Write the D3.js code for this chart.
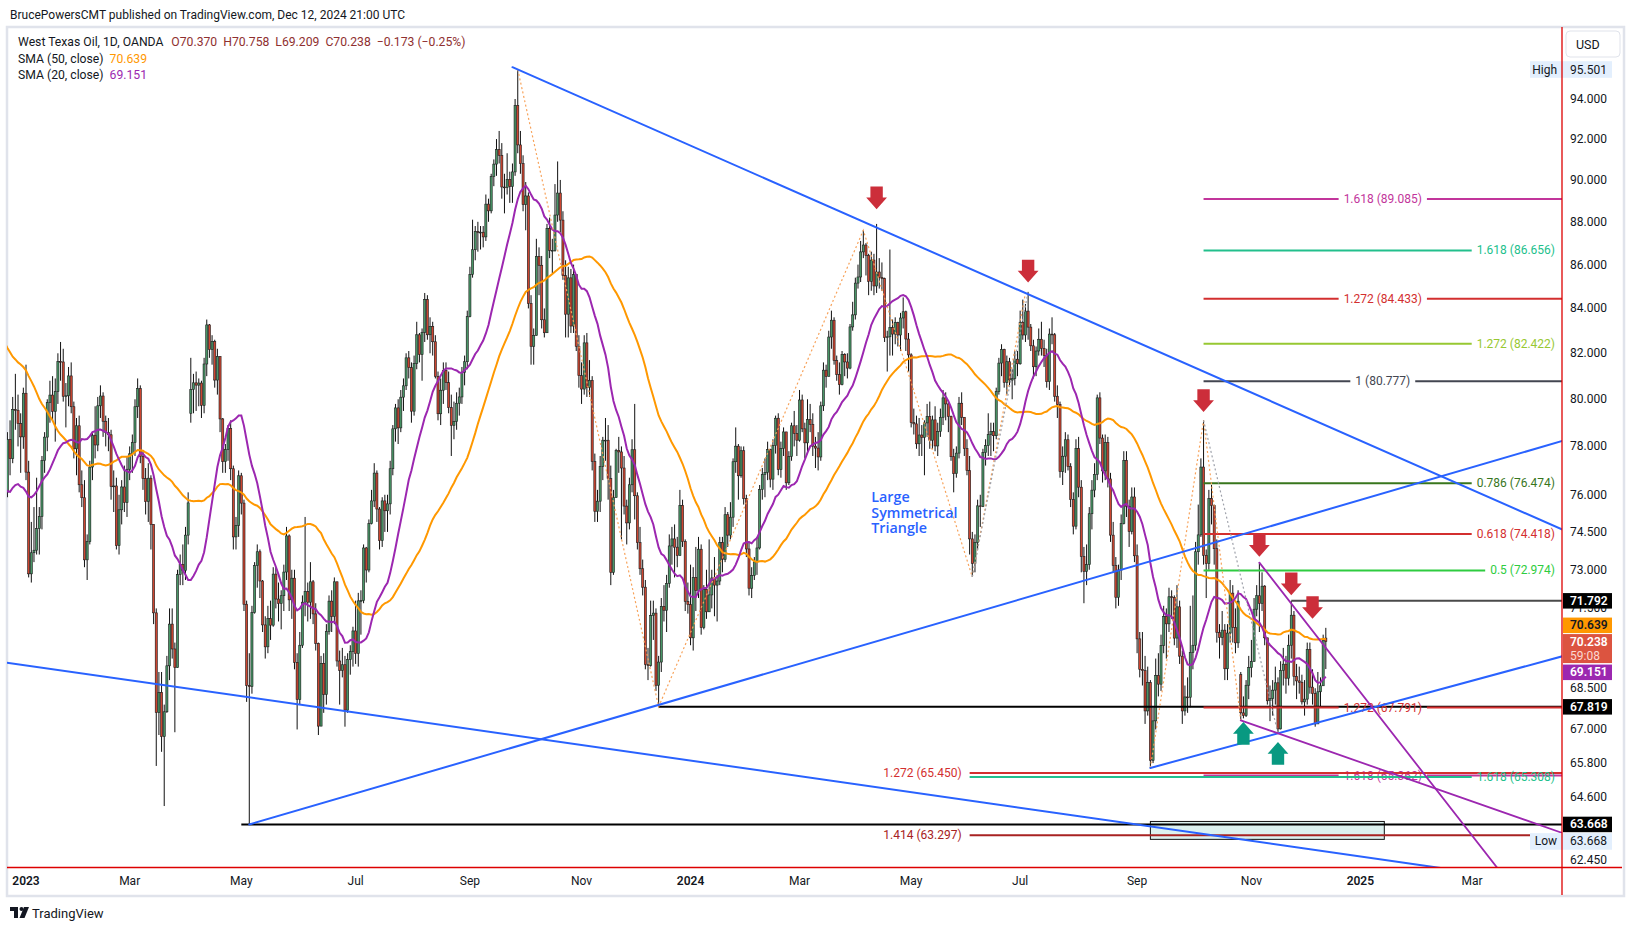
<!DOCTYPE html>
<html><head><meta charset="utf-8">
<script src="https://cdn.jsdelivr.net/npm/d3@7"></script>
<style>
html,body{margin:0;padding:0;background:#fff;}
svg{display:block;font-family:Roboto,"Noto Sans",Arial,sans-serif;}
</style></head><body>
<svg id="c" width="1634" height="931"></svg>
<script>
// ================= DATA (daily bars: [close, high, low, open?]; open defaults to previous close) =================
const m2022_10 = [[83.63,84.0,79.3],[86.52,86.8,83.4],[87.76,88.4,86.0],[88.45,88.9,86.6],[92.64,92.9,88.3],[91.13,93.6,90.0],[89.35,91.5,88.3],[87.27,89.6,86.6],[89.11,89.6,85.4],[85.61,89.8,85.4],[85.46,86.8,84.5],[82.82,85.9,81.3],[85.98,86.5,82.6],[84.51,86.3,83.7],[85.05,85.9,82.1],[84.58,85.6,83.4],[85.32,85.6,83.0],[87.91,88.4,85.2],[89.08,89.8,87.4],[87.90,89.2,87.3],[86.53,88.3,85.9]];
const m2022_11 = [[88.37,88.6,86.2],[90.00,90.3,87.8],[88.17,90.1,87.8],[92.61,92.8,87.9],[91.79,93.7,91.3],[88.91,92.2,88.4],[85.83,89.5,85.6],[86.47,87.3,84.9],[88.96,90.0,86.2],[85.87,89.0,85.6],[86.92,87.2,84.0],[85.59,87.4,85.2],[81.64,85.8,81.4],[80.08,82.3,77.2],[79.73,81.0,75.1],[80.95,81.5,79.0],[77.94,81.4,77.4],[76.28,78.0,76.0],[77.24,77.4,73.6],[78.20,79.8,77.6],[80.55,81.0,77.9]];
const m2022_12 = [[81.22,81.9,80.1],[79.98,83.2,79.3],[76.93,82.1,76.4],[74.25,77.8,74.0],[72.01,75.1,71.8],[71.46,73.2,70.1],[71.02,72.6,70.3],[73.17,73.8,70.3],[75.39,75.7,72.8],[77.28,77.5,75.0],[76.11,77.4,75.3],[74.29,76.3,73.8],[75.19,75.8,73.2],[76.09,76.7,74.9],[78.29,78.6,75.9],[77.49,79.1,76.8],[79.56,80.1,77.3],[79.53,81.1,78.7],[78.96,80.2,78.0],[78.40,79.4,76.9],[80.26,80.5,77.9]];
const m2023_01 = [[76.93,81.5,76.6],[72.84,77.4,72.7],[73.67,74.9,72.5],[73.77,75.5,73.3],[74.63,76.7,73.6],[75.12,75.5,73.6],[77.41,77.6,74.6],[78.39,78.6,76.9],[79.86,80.0,77.8],[80.18,80.8,79.0],[79.48,81.0,79.1],[80.33,80.9,78.2],[81.64,82.0,79.8],[81.62,82.5,80.8],[80.13,82.2,79.9],[80.15,80.7,78.8],[81.01,81.4,79.7],[79.68,81.6,79.4],[77.90,79.9,77.5],[78.87,79.2,76.8]];
const m2023_02 = [[76.41,79.3,76.1],[75.88,77.0,75.5],[73.39,76.6,73.1],[74.11,74.4,72.6],[77.14,77.4,74.0],[78.47,78.6,76.6],[78.06,79.7,77.5],[79.72,80.1,77.8],[80.14,80.6,79.2],[79.06,80.3,78.4],[78.59,79.3,78.0],[78.49,79.2,77.8],[76.34,78.7,75.8],[76.36,77.0,75.3],[73.95,76.7,73.8],[75.39,76.0,73.6],[76.32,76.6,74.8],[75.68,77.2,75.3],[77.05,77.6,75.1]];
const m2023_03 = [[77.69,78.0,76.6],[78.16,78.5,76.9],[79.68,80.0,77.6],[80.46,80.9,79.2],[77.58,80.6,77.3],[76.66,77.8,76.2],[75.72,77.1,75.2],[76.68,77.3,74.9],[74.80,76.8,73.8],[71.33,74.7,70.9],[67.61,71.5,65.7],[68.35,69.1,66.8],[66.74,69.1,66.2],[67.64,67.9,64.3],[69.33,69.7,67.6],[70.90,71.5,68.8],[69.96,71.5,69.6],[69.26,70.2,66.9],[72.81,73.0,69.3],[73.20,73.6,72.4],[72.97,74.0,72.4],[74.37,74.7,72.6],[75.67,76.1,74.0]];
const m2023_04 = [[80.42,81.8,79.0,79.4],[80.71,81.1,79.4],[80.61,81.2,79.5],[80.70,80.9,79.7],[79.74,80.8,79.2],[81.53,81.8,79.4],[83.26,83.5,81.0],[82.16,83.3,81.8],[82.52,82.8,81.5],[80.83,82.6,80.5],[81.86,82.2,80.2],[79.16,81.4,78.6],[77.37,79.2,76.9],[77.87,78.1,76.9],[78.76,78.9,77.4],[77.07,79.1,76.6],[74.30,77.2,73.8],[74.76,75.1,73.8],[76.78,77.0,74.3]];
const m2023_05 = [[75.66,76.9,75.2],[71.66,75.8,71.4],[68.60,71.8,68.0],[68.56,69.8,63.668],[71.34,71.6,68.3],[73.16,73.3,71.3],[73.71,74.0,72.3],[72.56,73.8,71.9],[70.87,72.6,70.6],[70.04,71.2,69.6],[71.11,71.6,69.8],[70.86,71.8,70.3],[72.83,73.1,70.8],[71.86,73.1,71.5],[71.69,72.5,71.0],[71.99,72.2,70.7],[72.91,73.2,71.4],[74.34,74.7,72.6],[71.83,74.4,71.4],[72.67,73.0,71.1],[69.46,73.0,69.2],[68.09,69.8,67.0]];
const m2023_06 = [[70.10,70.6,67.9],[71.74,72.0,70.0],[72.15,75.1,71.2],[71.74,72.5,71.0],[72.53,73.3,71.1],[71.29,72.6,70.9],[70.17,71.7,69.9],[67.12,70.2,66.8],[69.42,69.7,67.4],[68.27,69.8,67.6],[70.62,70.9,67.9],[71.78,72.0,70.5],[71.19,72.2,70.6],[72.53,72.7,70.9],[69.51,72.4,69.3],[69.16,69.9,67.9],[69.37,70.0,68.9],[67.70,69.7,67.1],[69.56,69.8,67.6],[69.86,70.1,69.0],[70.64,70.8,69.3]];
const m2023_07 = [[69.79,71.8,69.4],[71.79,72.1,69.3],[71.80,72.2,70.5],[73.86,74.0,71.7],[72.99,73.9,72.5],[74.83,75.0,72.9],[75.75,76.2,74.8],[76.89,77.3,75.5],[75.42,77.0,74.9],[74.15,75.5,73.8],[75.75,75.9,73.9],[75.35,76.0,74.5],[75.63,76.0,74.5],[77.07,77.4,75.2],[78.74,78.9,76.8],[79.63,79.8,78.2],[78.78,80.0,78.1],[80.09,80.4,78.6],[80.58,80.9,79.5],[81.80,82.0,80.4]];
const m2023_08 = [[81.37,82.1,80.9],[79.49,81.6,79.0],[81.55,81.9,79.3],[82.82,83.4,81.3],[81.94,82.9,81.6],[82.92,83.1,80.8],[84.40,84.7,82.5],[82.82,84.6,82.6],[83.19,83.6,82.0],[82.51,83.4,81.9],[80.99,82.8,80.9],[79.38,81.2,79.1],[80.39,80.9,78.9],[81.25,81.6,79.8],[80.72,81.6,80.4],[79.64,81.2,79.4],[78.89,80.2,77.6],[79.05,79.9,78.3],[79.83,80.3,78.7],[80.10,80.5,79.3],[81.16,81.4,79.8],[81.63,81.9,80.6],[83.63,83.9,81.3]];
const m2023_09 = [[85.55,85.9,83.6],[86.69,88.1,85.4],[87.54,87.8,86.2],[87.51,88.0,86.6],[87.51,87.8,86.7],[87.29,87.8,86.8],[88.84,89.3,87.1],[88.52,89.1,88.0],[90.16,90.3,88.4],[90.77,91.0,89.7],[91.48,92.0,90.2],[91.20,92.4,90.8],[89.66,91.8,89.1],[89.63,90.3,88.4],[90.03,91.3,89.3],[89.68,90.4,88.9],[90.39,90.8,88.9],[93.68,94.0,90.2],[91.71,95.501,91.3],[90.79,92.4,90.3]];
const m2023_10 = [[88.82,91.2,88.5],[89.23,89.9,87.6],[84.22,89.4,84.0],[82.31,84.6,81.5],[82.79,83.1,81.5],[86.38,87.2,84.7],[85.97,86.8,84.6],[83.49,86.4,83.1],[82.91,84.0,82.7],[87.69,87.9,83.5],[86.66,88.2,86.3],[86.66,87.2,85.6],[88.32,89.8,86.6],[89.37,90.9,88.0],[88.08,90.0,87.5],[85.49,88.5,85.3],[83.74,86.2,82.7],[85.39,85.9,82.7],[83.21,85.8,82.9],[85.54,86.0,82.9],[82.31,85.2,82.1],[81.02,82.8,80.5]];
const m2023_11 = [[80.44,81.6,79.8],[82.46,82.8,80.2],[80.51,82.9,80.1],[80.82,81.7,80.1],[77.37,81.0,77.0],[75.33,77.7,74.9],[75.74,76.2,74.9],[77.17,77.6,75.3],[78.26,78.4,76.6],[78.26,79.2,77.4],[76.66,78.9,75.8],[72.90,77.2,72.4],[75.89,76.2,72.8],[77.83,77.9,75.9],[77.77,78.4,76.9],[77.10,78.0,74.2],[75.54,77.6,75.2],[74.86,75.8,74.0],[76.41,76.7,74.6],[77.86,78.3,76.1],[75.96,79.8,75.0]];
const m2023_12 = [[74.07,76.1,73.8],[73.04,74.7,72.8],[72.32,73.4,72.0],[69.38,72.6,69.2],[69.34,70.0,68.8],[71.23,71.8,69.3],[71.32,71.8,70.3],[68.61,71.5,68.4],[69.47,69.7,67.819],[71.58,71.9,69.1],[71.43,72.4,71.0],[72.47,72.8,70.6],[73.94,74.4,72.3],[74.22,74.7,73.2],[73.89,74.8,72.7],[73.56,74.3,73.1],[75.57,76.2,73.6],[74.11,75.8,73.9],[71.77,74.2,71.4],[71.65,72.5,71.3]];
const m2024_01 = [[70.38,73.2,70.1],[72.70,73.1,69.9],[72.19,73.9,71.4],[73.81,74.3,71.9],[70.77,74.0,70.5],[72.24,72.4,70.7],[71.37,73.0,71.1],[72.02,74.2,71.4],[72.68,73.0,71.5],[72.40,73.5,71.2],[72.56,72.8,71.0],[74.08,74.3,72.4],[73.41,74.3,72.9],[75.19,75.5,73.3],[74.37,75.3,73.9],[75.09,75.7,74.2],[77.36,77.5,74.7],[78.01,78.8,76.9],[76.78,78.1,75.8],[77.82,78.0,76.7],[75.85,78.0,75.6]];
const m2024_02 = [[73.82,76.0,73.5],[72.28,74.1,72.0],[72.78,73.1,71.9],[73.31,73.5,72.6],[73.86,74.3,72.8],[76.22,76.4,73.8],[76.84,77.1,75.8],[76.92,77.5,75.9],[77.87,78.2,76.6],[76.64,77.9,76.3],[78.03,78.3,76.2],[79.19,79.3,77.7],[77.04,79.4,76.8],[77.91,78.2,76.7],[78.61,78.8,77.6],[76.49,78.6,76.2],[77.58,77.8,76.4],[78.87,79.0,77.4],[78.54,79.5,78.0],[78.26,78.9,77.6]];
const m2024_03 = [[79.97,80.4,78.2],[78.74,80.2,78.6],[78.15,79.0,77.5],[79.13,80.0,77.8],[78.93,79.8,78.6],[78.01,79.4,77.6],[77.93,78.4,77.1],[77.56,78.6,77.0],[79.72,79.9,77.4],[81.26,81.6,79.5],[80.99,81.5,80.5],[82.72,83.0,81.0],[83.47,83.9,82.2],[81.68,83.6,81.5],[81.07,81.9,80.8],[80.63,81.6,80.2],[81.95,82.1,80.6],[81.62,82.0,81.0],[81.35,82.0,80.9],[83.17,83.3,81.3]];
const m2024_04 = [[83.71,84.3,83.0],[85.15,85.4,83.5],[85.43,86.0,84.9],[86.59,87.1,85.2],[86.91,87.6,86.3],[86.43,87.0,85.5],[85.23,86.5,84.6],[86.21,86.6,84.8],[85.02,86.5,84.6],[85.66,87.9,84.7],[85.41,86.3,84.9],[85.36,86.1,84.8],[82.69,85.4,82.5],[82.73,83.0,81.2],[83.14,86.7,81.9],[82.85,83.5,81.9],[83.36,83.6,82.4],[82.81,83.4,82.3],[83.57,83.8,82.1],[83.85,84.5,83.1],[82.63,83.9,82.1],[81.93,82.9,81.2]];
const m2024_05 = [[79.00,82.0,78.8],[78.95,79.6,78.5],[78.11,79.3,77.9],[78.48,79.2,77.6],[78.38,78.9,77.6],[78.99,79.1,76.8],[79.26,79.8,78.4],[78.26,79.9,77.9],[79.12,79.3,77.9],[78.02,79.7,77.8],[78.63,79.0,77.6],[79.23,79.6,78.4],[80.06,80.4,78.9],[79.80,80.3,79.1],[79.26,79.9,78.6],[77.57,79.3,77.4],[76.87,77.9,76.1],[77.72,78.0,76.7],[79.83,80.1,77.5],[79.23,80.3,78.9],[77.91,79.1,77.6],[76.99,78.3,76.8]];
const m2024_06 = [[74.22,77.6,73.6],[73.25,74.5,72.72],[74.07,74.4,72.9],[75.55,75.8,73.8],[75.53,76.0,74.7],[77.74,77.9,75.5],[78.03,78.3,77.2],[78.50,79.4,77.6],[78.62,79.0,77.6],[78.45,79.0,77.8],[80.33,80.5,78.3],[81.57,81.8,80.2],[82.17,82.4,81.0],[80.73,82.2,80.5],[81.63,81.9,80.2],[80.83,81.8,80.6],[80.90,81.3,80.0],[81.74,82.1,80.6],[81.54,82.1,81.0]];
const m2024_07 = [[83.38,83.9,81.5],[82.81,84.4,82.6],[83.88,84.2,82.5],[83.16,84.75,82.6],[82.33,83.3,82.1],[81.41,82.6,80.9],[82.10,82.3,81.0],[82.62,83.1,81.9],[82.21,83.4,81.9],[81.91,82.6,81.4],[80.76,82.2,80.5],[82.85,83.1,80.4],[82.82,83.6,82.4],[80.13,82.9,79.9],[79.78,80.6,79.2],[76.96,79.9,76.7],[77.59,78.0,76.4],[78.28,78.6,76.9],[77.16,78.5,77.0],[75.81,77.3,75.5],[74.73,76.1,74.4],[77.91,78.3,74.6]];
const m2024_08 = [[76.31,78.4,75.9],[73.52,76.6,72.9],[72.94,73.9,71.7],[73.20,74.0,72.4],[75.23,75.5,73.0],[76.19,76.6,74.6],[76.84,77.3,75.9],[80.06,80.2,76.6],[78.35,80.3,78.1],[76.98,78.5,76.5],[78.16,78.5,76.6],[76.65,78.4,76.3],[74.37,76.9,74.1],[73.17,74.9,72.9],[71.93,73.5,71.5],[72.99,73.2,71.6],[74.83,75.2,72.6],[77.42,77.8,74.8],[75.53,77.8,75.1],[74.52,75.8,73.9],[75.91,76.3,74.4],[73.55,76.3,73.3]];
const m2024_09 = [[70.34,74.0,69.8],[69.20,70.6,68.9],[69.15,70.6,68.6],[67.67,69.7,67.2],[68.71,69.3,67.5],[65.90,68.8,65.63],[67.31,67.8,65.8],[68.97,69.6,67.0],[68.65,69.8,68.2],[70.09,70.5,68.4],[71.19,71.6,69.8],[70.91,71.5,69.6],[71.95,72.3,70.6],[71.92,72.2,71.1],[70.37,72.0,70.1],[71.56,72.4,70.0],[69.69,71.8,69.4],[67.67,69.9,67.2],[68.18,68.6,67.5],[68.17,68.9,67.6]];
const m2024_10 = [[69.83,71.6,67.8],[70.10,72.0,69.2],[73.71,74.1,69.9],[74.38,75.6,73.2],[77.14,77.5,74.3],[73.57,79.1,73.2],[73.24,73.8,71.9],[75.85,76.2,73.0],[75.56,76.4,74.8],[73.83,75.6,73.2],[70.58,74.2,70.2],[70.39,70.9,69.6],[70.67,71.4,70.1],[69.22,70.9,68.8],[70.56,70.9,68.8],[72.09,72.6,70.2],[70.77,72.4,70.2],[70.19,71.5,69.8],[71.78,72.2,70.0],[67.60,69.1,67.33,69.0],[67.50,68.2,67.4],[68.61,68.8,67.45],[69.26,69.7,68.1]];
const m2024_11 = [[69.49,70.3,68.9],[71.47,71.9,69.9],[71.99,72.4,71.2],[71.69,73.3,70.6],[72.36,72.9,71.4],[70.38,72.4,70.1],[68.04,70.2,67.9],[68.12,68.6,67.3],[68.43,68.8,67.5],[68.70,69.3,67.9],[67.02,68.9,66.9],[69.16,69.5,67.0],[69.39,70.0,68.6],[68.87,69.7,68.3],[70.10,70.5,68.6],[71.24,71.79,69.6],[68.94,71.4,68.6],[68.77,69.4,68.1],[68.72,69.3,68.3],[68.00,69.0,67.9]];
const m2024_12 = [[68.10,68.8,67.5],[69.94,70.2,67.9],[68.54,70.2,68.3],[68.30,69.2,67.9],[67.20,68.5,67.1],[68.37,69.1,67.3],[68.59,68.9,67.8],[70.29,70.5,68.6],[70.238,70.758,69.209,70.370]];

const monthlyBars = [m2022_10,m2022_11,m2022_12,m2023_01,m2023_02,m2023_03,m2023_04,m2023_05,m2023_06,m2023_07,m2023_08,m2023_09,m2023_10,m2023_11,m2023_12,m2024_01,m2024_02,m2024_03,m2024_04,m2024_05,m2024_06,m2024_07,m2024_08,m2024_09,m2024_10,m2024_11,m2024_12];
const firstSession = "2022-10-03";
const holidays = ["2022-11-24","2022-12-26","2023-01-02","2023-01-16","2023-02-20","2023-04-07","2023-05-29","2023-06-19","2023-07-04","2023-09-04","2023-11-23","2023-12-25","2024-01-01","2024-01-15","2024-02-19","2024-03-29","2024-05-27","2024-06-19","2024-07-04","2024-09-02","2024-11-28","2024-12-25","2025-01-01"];

// price axis
const priceTicks = [94,92,90,88,86,84,82,80,78,76,74.5,73,71.5,68.5,67,65.8,64.6,62.45];
const monthNames = ["Jan","Feb","Mar","Apr","May","Jun","Jul","Aug","Sep","Oct","Nov","Dec"];

// legend values
const symbolTitle = "West Texas Oil, 1D, OANDA";
const ohlcLegend = ["O70.370","H70.758","L69.209","C70.238","\u22120.173 (\u22120.25%)"];
const smaLegend = [["SMA (50, close)","70.639"],["SMA (20, close)","69.151"]];
const highValue = 95.501, lowValue = 63.668;
const lastClose = 70.238, sma50Last = 70.639, sma20Last = 69.151;

// drawings: anchors are [date, price]
const triangleTop = [["2023-09-26",95.62],["2024-07-05",84.64]];
const triangleBottom = [["2023-05-04",63.668],["2023-12-13",67.89]];
const lowerTrend = [["2022-12-22",69.43],["2024-09-10",63.6]];
const channelLow = [["2024-09-10",65.63],["2024-11-15",66.86]];
const purpleSteep = [["2024-11-06",73.28],["2024-12-12",70.0]];
const purpleLow = [["2024-10-28",67.33],["2024-11-15",66.86]];
const zigzagOrange1 = [["2023-09-28",95.5],["2023-12-13",67.82],["2024-04-05",87.6],["2024-06-04",72.72],["2024-07-03",84.7]];
const zigzagOrange2 = [["2024-09-10",65.63],["2024-10-08",79.1],["2024-10-28",67.33]];
const zigzagGray1 = [["2024-06-04",72.72],["2024-07-05",84.75]];
const zigzagGray2 = [["2024-10-08",79.1],["2024-11-15",66.86]];
const fibLevels = [
  ["1.618 (89.085)",89.085,"2024-10-08"],
  ["1.618 (86.656)",86.656,"2024-10-08"],
  ["1.272 (84.433)",84.433,"2024-10-08"],
  ["1.272 (82.422)",82.422,"2024-10-08"],
  ["1 (80.777)",80.777,"2024-10-08"],
  ["0.786 (76.474)",76.474,"2024-10-08"],
  ["0.618 (74.418)",74.418,"2024-10-08"],
  ["0.5 (72.974)",72.974,"2024-10-08"],
  ["1.272 (67.791)",67.791,"2024-10-08"],
  ["1.618 (65.362)",65.362,"2024-10-08"],
  ["1.272 (65.450)",65.45,"2024-06-03"],
  ["1.618 (65.308)",65.308,"2024-06-03"],
  ["1.414 (63.297)",63.297,"2024-06-03"]
];
const horizontalLines = [[67.819,"2023-12-13"],[63.668,"2023-05-01"],[71.792,"2024-11-22"]];
const zoneBox = [["2024-09-10",63.77],["2025-01-15",63.16]];
const downArrows = [["2024-04-12",88.6],["2024-07-05",85.18],["2024-10-08",79.46],["2024-11-06",73.51],["2024-11-22",72.01],["2024-12-05",71.10]];
const upArrows = [["2024-10-29",67.27],["2024-11-15",66.55]];
const noteAnchor = ["2024-04-10",76.2];
const noteLines = ["Large","Symmetrical","Triangle"];

// ================= BUILD =================
const svg = d3.select("#c");
const PL = 7, PR = 1562, PT = 27, PB = 867.5;
const INK = "#131722";

function buildSessions(startIso, n){
  const hol = new Set(holidays), out = [];
  let t = Date.parse(startIso + "T00:00:00Z");
  while (out.length < n){
    const d = new Date(t), wd = d.getUTCDay(), iso = d.toISOString().slice(0,10);
    if (wd !== 0 && wd !== 6 && !hol.has(iso)) out.push(iso);
    t += 86400000;
  }
  return out;
}
const raw = monthlyBars.flat();
const sessions = buildSessions(firstSession, raw.length + 160);
const bars = raw.map((r,i)=>{
  const o = r.length > 3 ? r[3] : (i>0 ? raw[i-1][0] : r[0]);
  const c = r[0];
  return {i, date:sessions[i], o, c, h:Math.max(r[1],o,c), l:Math.min(r[2],o,c)};
});
const idx = new Map(sessions.map((d,i)=>[d,i]));
const i0 = idx.get("2023-01-03");
const x = d3.scaleLinear().domain([i0 - 7.15, i0 + 577.85]).range([PL, PR]);
const y = d3.scaleLog().domain([62.45, 94]).range([860.4, 99]);
const P = a => [x(idx.get(a[0])), y(a[1])];

// container
svg.append("rect").attr("x",0).attr("y",0).attr("width",1634).attr("height",931).attr("fill","#fff");
svg.append("rect").attr("x",PL).attr("y",PT).attr("width",1624-PL).attr("height",896-PT)
  .attr("fill","none").attr("stroke","#e0e3eb").attr("stroke-width",2.5);

svg.append("text").attr("x",10).attr("y",15).attr("dominant-baseline","central")
  .attr("font-size",12).attr("fill",INK).text("BrucePowersCMT published on TradingView.com, Dec 12, 2024 21:00 UTC");

const defs = svg.append("defs");
defs.append("clipPath").attr("id","pane").append("rect").attr("x",PL).attr("y",PT).attr("width",PR-PL).attr("height",PB-PT);
const pane = svg.append("g").attr("clip-path","url(#pane)");

// candles
const bw = 2.1;
const cg = pane.append("g");
cg.selectAll("line.w").data(bars).join("line").attr("class","w")
  .attr("x1",d=>x(d.i)).attr("x2",d=>x(d.i)).attr("y1",d=>y(d.h)).attr("y2",d=>y(d.l))
  .attr("stroke","#111").attr("stroke-width",1);
cg.selectAll("rect.b").data(bars).join("rect").attr("class","b")
  .attr("x",d=>x(d.i)-bw/2).attr("width",bw)
  .attr("y",d=>y(Math.max(d.o,d.c))).attr("height",d=>Math.max(0.8, y(Math.min(d.o,d.c))-y(Math.max(d.o,d.c))))
  .attr("fill",d=>d.c>=d.o ? "#489566" : "#cc4530").attr("stroke","#1c1c1c").attr("stroke-width",0.6);

// SMAs
function sma(n){ const out=[]; for(let i=n-1;i<bars.length;i++){ out.push({i, v:d3.mean(bars.slice(i-n+1,i+1),d=>d.c)}); } return out; }
const ln = d3.line().x(d=>x(d.i)).y(d=>y(d.v));
pane.append("path").attr("d",ln(sma(50))).attr("fill","none").attr("stroke","#ff9800").attr("stroke-width",2);
pane.append("path").attr("d",ln(sma(20))).attr("fill","none").attr("stroke","#9c27b0").attr("stroke-width",2);

// zone box
{
  const a = P(zoneBox[0]), b = P(zoneBox[1]);
  pane.append("rect").attr("x",a[0]).attr("y",a[1]).attr("width",b[0]-a[0]).attr("height",b[1]-a[1])
    .attr("fill","rgba(178,223,219,0.45)").attr("stroke","#111").attr("stroke-width",1);
}

// horizontal lines
const hColors = ["#000","#000","#4a4a4a"];
horizontalLines.forEach((h,k)=>{
  const x0 = x(idx.get(h[1]));
  pane.append("line").attr("x1",x0).attr("x2",PR).attr("y1",y(h[0])).attr("y2",y(h[0]))
    .attr("stroke",hColors[k]).attr("stroke-width",2);
});

// fib levels
const fibStyle = [
  ["#c2359b","mid"],["#22bf8c","right"],["#d32f2f","mid"],["#97c832","right"],["#434651","mid"],
  ["#38761d","right"],["#d32f2f","right"],["#2ecc40","right"],["#d32f2f","mid"],["#c2359b","mid"],
  ["#d32f2f","left"],["#22bf8c","right"],["#a82222","left"]
];
fibLevels.forEach((f,k)=>{
  const [col, side] = fibStyle[k];
  const yy = y(f[1]), x0 = x(idx.get(f[2]));
  const g = pane.append("g");
  const t = g.append("text").attr("y",yy).attr("dominant-baseline","central").attr("font-size",12)
    .attr("fill",col).text(f[0]);
  const w = t.node().getComputedTextLength();
  const seg = (a,b)=>g.insert("line","text").attr("x1",a).attr("x2",b).attr("y1",yy).attr("y2",yy).attr("stroke",col).attr("stroke-width",2);
  if (side === "mid"){
    const cx = (x0 + PR)/2;
    t.attr("x",cx).attr("text-anchor","middle");
    seg(x0, cx - w/2 - 5); seg(cx + w/2 + 5, PR);
  } else if (side === "right"){
    t.attr("x",1555).attr("text-anchor","end");
    seg(x0, 1555 - w - 5);
  } else {
    t.attr("x",x0 - 8).attr("text-anchor","end");
    seg(x0, PR);
  }
});

// dotted zigzags
function poly(pts, col){
  pane.append("path").attr("d", d3.line()(pts.map(P))).attr("fill","none")
    .attr("stroke",col).attr("stroke-width",1.2).attr("stroke-dasharray","2,2.5");
}
poly(zigzagOrange1,"#f7a25a");
poly(zigzagOrange2,"#f7a25a");
poly(zigzagGray1,"#9ea1aa");
poly(zigzagGray2,"#9ea1aa");

// trend lines (straight in screen space, extended right)
function trend(anc, col, w, extLeft){
  const a = P(anc[0]), b = P(anc[1]);
  const s = (b[1]-a[1])/(b[0]-a[0]);
  const start = extLeft ? [PL-5, a[1] + s*(PL-5-a[0])] : a;
  const end = [PR+5, a[1] + s*(PR+5-a[0])];
  pane.append("line").attr("x1",start[0]).attr("y1",start[1]).attr("x2",end[0]).attr("y2",end[1])
    .attr("stroke",col).attr("stroke-width",w).attr("stroke-linecap","round");
}
trend(triangleTop,"#2962ff",2,false);
trend(triangleBottom,"#2962ff",2,false);
trend(lowerTrend,"#2962ff",2,true);
trend(channelLow,"#2962ff",2,false);
trend(purpleSteep,"#9c27b0",1.8,false);
trend(purpleLow,"#9c27b0",1.8,false);

// arrows
function arrow(a, dir, col){
  const [ax, ay] = P(a);
  const pts = dir < 0
    ? [[-6.2,-22.7],[6.2,-22.7],[6.2,-11.7],[10.4,-11.7],[0,0],[-10.4,-11.7],[-6.2,-11.7]]
    : [[-6.2,22.7],[6.2,22.7],[6.2,11.7],[10.4,11.7],[0,0],[-10.4,11.7],[-6.2,11.7]];
  pane.append("polygon").attr("points",pts.map(p=>[ax+p[0],ay+p[1]].join(",")).join(" ")).attr("fill",col);
}
downArrows.forEach(a=>arrow(a,-1,"#cc2e3a"));
upArrows.forEach(a=>arrow(a,1,"#089981"));

// note text
{
  const [nx, ny] = P(noteAnchor);
  const t = pane.append("text").attr("x",nx).attr("y",ny+12).attr("font-family","'Open Sans',Roboto,sans-serif")
    .attr("font-size",14.3).attr("font-weight",600).attr("fill","#2962ff");
  noteLines.forEach((s,k)=>t.append("tspan").attr("x",nx).attr("dy",k?15.8:0).text(s));
}

// legend
{
  const t = svg.append("text").attr("x",18).attr("y",42.3).attr("dominant-baseline","central").attr("font-size",12.2).attr("fill",INK);
  t.append("tspan").text(symbolTitle);
  ohlcLegend.forEach((s,k)=>t.append("tspan").attr("dx",k===0?8:6).attr("fill","#8f3030").text(s));
  smaLegend.forEach((s,k)=>{
    const tt = svg.append("text").attr("x",18).attr("y",58.6+k*16.3).attr("dominant-baseline","central").attr("font-size",12.2).attr("fill",INK);
    tt.append("tspan").text(s[0]);
    tt.append("tspan").attr("dx",6).attr("fill",k===0?"#ff9800":"#9c27b0").text(s[1]);
  });
}

// price axis ticks
const ax = svg.append("g");
priceTicks.forEach(p=>{
  ax.append("text").attr("x",1570).attr("y",y(p)).attr("dominant-baseline","central").attr("font-size",12)
    .attr("fill",INK).text(p.toFixed(3));
});
// High / Low markers
[[highValue,"High"],[lowValue,"Low"]].forEach(([v,lab],k)=>{
  const yy = k===0 ? y(v) : y(v)+17;
  svg.append("rect").attr("x",1530).attr("y",yy-8.3).attr("width",82).attr("height",16.6).attr("fill","#e3effd");
  svg.append("text").attr("x",1557).attr("y",yy).attr("text-anchor","end").attr("dominant-baseline","central").attr("font-size",12).attr("fill",INK).text(lab);
  svg.append("text").attr("x",1570).attr("y",yy).attr("dominant-baseline","central").attr("font-size",12).attr("fill",INK).text(v.toFixed(3));
});

// price tags, stacked around the last-price tag so none overlap
const lastY = y(lastClose), lastTop = lastY - 7.5, lastBot = lastY + 21.5;
const tags = [
  ...horizontalLines.map(h=>({p:h[0], bg:"#000", fg:"#fff"})),
  {p:sma50Last, bg:"#ff9800", fg:INK},
  {p:sma20Last, bg:"#9c27b0", fg:"#fff"}
].map(t=>({...t, cy:y(t.p)}));
const H = 15.5;
const above = tags.filter(t=>t.p > lastClose).sort((a,b)=>b.cy-a.cy);
let limit = lastTop - 1;
above.forEach(t=>{ if (t.cy + H/2 > limit) t.cy = limit - H/2; limit = t.cy - H/2 - 1; });
const below = tags.filter(t=>t.p <= lastClose).sort((a,b)=>a.cy-b.cy);
limit = lastBot + 1.5;
below.forEach(t=>{ if (t.cy - H/2 < limit) t.cy = limit + H/2; limit = t.cy + H/2 + 1; });
tags.forEach(t=>{
  ax.append("rect").attr("x",1563).attr("y",t.cy-H/2).attr("width",49).attr("height",H).attr("fill",t.bg);
  ax.append("text").attr("x",1570).attr("y",t.cy).attr("dominant-baseline","central").attr("font-size",12)
    .attr("font-weight",600).attr("fill",t.fg).text(t.p.toFixed(3));
});
ax.append("rect").attr("x",1563).attr("y",lastTop).attr("width",49).attr("height",lastBot-lastTop).attr("fill","#dc5440");
ax.append("text").attr("x",1570).attr("y",lastY).attr("dominant-baseline","central").attr("font-size",12).attr("font-weight",600).attr("fill","#fff").text(lastClose.toFixed(3));
ax.append("text").attr("x",1570).attr("y",lastY+14).attr("dominant-baseline","central").attr("font-size",12).attr("fill","#fbd9d3").text("59:08");

// USD box
svg.append("rect").attr("x",1566).attr("y",31).attr("width",54).attr("height",26).attr("rx",4).attr("fill","#fff").attr("stroke","#e0e3eb");
svg.append("text").attr("x",1576).attr("y",44).attr("dominant-baseline","central").attr("font-size",12.5).attr("fill",INK).text("USD");

// time axis
sessions.forEach((d,i)=>{
  if (i===0) return;
  const m = +d.slice(5,7), pm = +sessions[i-1].slice(5,7);
  if (m === pm || d < "2023-01-01" || m % 2 === 0) return;
  const xx = x(i);
  if (xx < PL || xx > PR - 10) return;
  svg.append("text").attr("x",xx).attr("y",881).attr("text-anchor","middle").attr("dominant-baseline","central")
    .attr("font-size",12).attr("font-weight",m===1?600:400).attr("fill",INK)
    .text(m===1 ? d.slice(0,4) : monthNames[m-1]);
});

// red separators
svg.append("line").attr("x1",PR).attr("x2",PR).attr("y1",PT).attr("y2",895).attr("stroke","#dd0000").attr("stroke-width",1.3);
svg.append("line").attr("x1",PL).attr("x2",1622).attr("y1",PB).attr("y2",PB).attr("stroke","#dd0000").attr("stroke-width",1.3);

// footer logo
{
  const g = svg.append("g").attr("fill",INK);
  g.append("rect").attr("x",10).attr("y",907).attr("width",8).attr("height",4);
  g.append("rect").attr("x",14).attr("y",907).attr("width",4).attr("height",11);
  g.append("circle").attr("cx",21.5).attr("cy",909).attr("r",2);
  g.append("polygon").attr("points","24,907 29,907 24.5,918 19.5,918");
  svg.append("text").attr("x",32).attr("y",913).attr("dominant-baseline","central").attr("font-size",13).attr("fill",INK).text("TradingView");
}
</script>
</body></html>
